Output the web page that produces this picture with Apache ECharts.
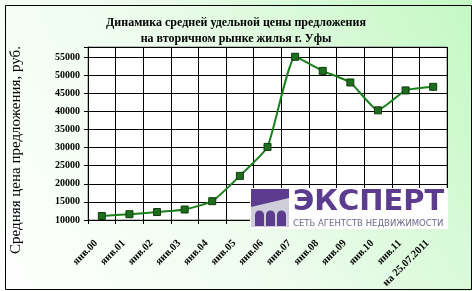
<!DOCTYPE html>
<html><head><meta charset="utf-8">
<script src="https://cdn.jsdelivr.net/npm/echarts@6/dist/echarts.min.js"></script>
<style>html,body{margin:0;padding:0;background:#fff}#c{width:472px;height:291px}</style>
</head><body><div id="c"></div>
<script>
const categories = ['янв.00','янв.01','янв.02','янв.03','янв.04','янв.05','янв.06','янв.07','янв.08','янв.09','янв.10','янв.11','на 25.07.2011'];
const prices = [11100, 11600, 12200, 12900, 15200, 22200, 30200, 55100, 51200, 48000, 40300, 45800, 46800];
const titleLines = ['Динамика средней удельной цены предложения', 'на вторичном рынке жилья г. Уфы'];
const yAxisName = 'Средняя цена предложения, руб.';
const yMin = 10000, yMax = 57800, yStep = 5000;

const serif = '"Liberation Serif", "Times New Roman", serif';
const sans = '"DejaVu Sans", "Liberation Sans", Arial, sans-serif';
const purple = '#5b3c8e';
function arch(x) {
  return [
    {type: 'rect', z: 101, shape: {x: x, y: 27, width: 9, height: 11}, style: {fill: purple}},
    {type: 'circle', z: 101, shape: {cx: x + 4.5, cy: 27, r: 4.5}, style: {fill: purple}}
  ];
}
const chart = echarts.init(document.getElementById('c'), null, {renderer: 'canvas'});
chart.setOption({
  animation: false,
  backgroundColor: {
    type: 'linear', x: 0, y: 1, x2: 1, y2: 0,
    colorStops: [{offset: 0, color: '#ffffff'}, {offset: 0.45, color: '#eefcee'}, {offset: 1, color: '#c4f8c4'}]
  },
  title: {
    text: titleLines.join('\n'), left: 'center', top: 10, itemGap: 0,
    textStyle: {fontFamily: serif, fontWeight: 'bold', fontSize: 12, color: '#000', lineHeight: 16}
  },
  grid: {left: 88, right: 25, top: 47, bottom: 71, show: true, borderColor: '#808080', borderWidth: 1, backgroundColor: '#fff'},
  xAxis: {
    type: 'category', data: categories, boundaryGap: true,
    axisLine: {lineStyle: {color: '#000', width: 1}},
    axisTick: {show: true, length: 4, lineStyle: {color: '#000'}},
    splitLine: {show: true, lineStyle: {color: '#000', width: 1}},
    axisLabel: {rotate: 45, interval: 0, margin: 16, padding: [0, 8, 0, 0], fontFamily: serif, fontWeight: 'bold', fontSize: 10.5, color: '#000'}
  },
  yAxis: {
    type: 'value', min: yMin, max: yMax, interval: yStep,
    axisLine: {show: true, lineStyle: {color: '#000', width: 1}},
    axisTick: {show: true, length: 4, lineStyle: {color: '#000'}},
    splitLine: {show: true, lineStyle: {color: '#000', width: 1}},
    axisLabel: {margin: 8, fontFamily: serif, fontWeight: 'bold', fontSize: 10, color: '#000',
      formatter: v => (v % yStep === 0 ? String(v) : '')}
  },
  series: [{
    type: 'line', data: prices, smooth: 0.15,
    symbol: 'rect', symbolSize: 7, z: 5,
    lineStyle: {color: '#1a801a', width: 2},
    itemStyle: {color: '#1f6e1f', borderColor: '#0b3d0b', borderWidth: 1}
  }],
  graphic: [
    {type: 'rect', z: 100, left: 3, top: 3, shape: {width: 466, height: 284}, style: {fill: 'none', stroke: '#000', lineWidth: 1}, silent: true},
    {type: 'text', z: 100, rotation: Math.PI / 2, x: 16, y: 150, style: {text: yAxisName, font: '15px ' + serif, fill: '#000', textAlign: 'center', textVerticalAlign: 'middle'}},
    {type: 'group', z: 100, x: 250, y: 188, children: [
      {type: 'rect', z: 100, shape: {x: 0, y: 0, width: 198, height: 41}, style: {fill: '#ffffff', stroke: null}},
      {type: 'rect', z: 101, shape: {x: 1, y: 1, width: 38, height: 38}, style: {fill: '#cfcdd8'}},
      {type: 'polygon', z: 101, shape: {points: [[1, 1], [39, 1], [39, 10], [1, 19]]}, style: {fill: purple}}
    ].concat(arch(5), arch(16), arch(27), [
      {type: 'text', z: 101, x: 43, y: 0, style: {text: 'ЭКСПЕРТ', font: 'bold 29px ' + sans, fill: purple, textVerticalAlign: 'top'}},
      {type: 'text', z: 101, x: 43, y: 31, style: {text: 'СЕТЬ АГЕНТСТВ НЕДВИЖИМОСТИ', font: '8.5px ' + sans, fill: '#6b6b8a', textVerticalAlign: 'top'}}
    ])}
  ]
});
</script></body></html>
